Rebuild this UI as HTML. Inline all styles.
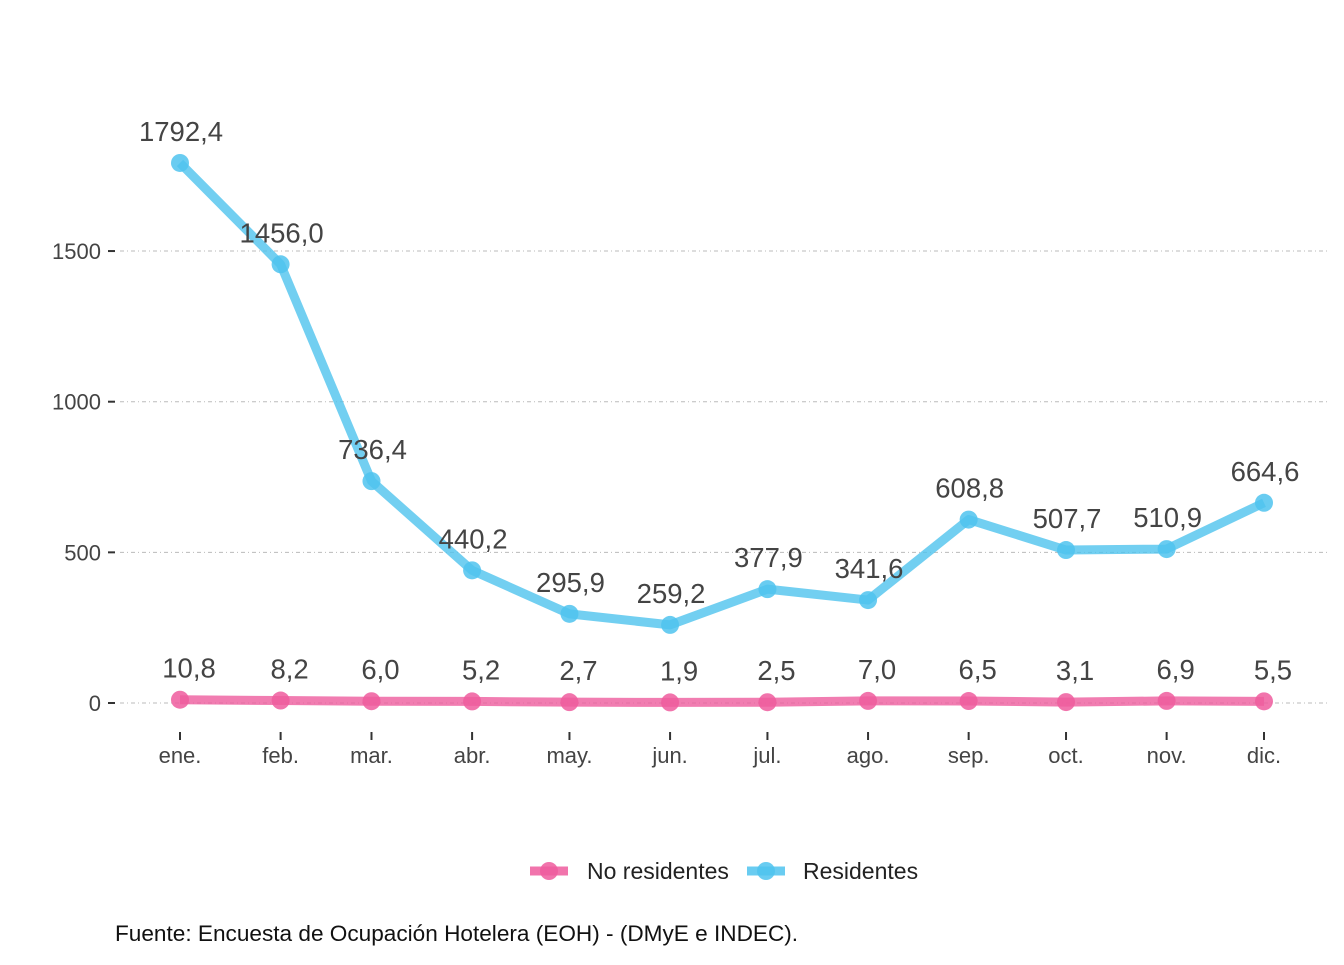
<!DOCTYPE html>
<html><head><meta charset="utf-8"><style>
body{margin:0;background:#fff;font-family:"Liberation Sans",sans-serif}
svg text{font-family:"Liberation Sans",sans-serif}
</style></head><body>
<svg id="chart" width="1344" height="960">
<g id="grid"></g><g id="axes"></g><g id="series"></g><g id="labels"></g>
<g>
 <line x1="530" y1="871" x2="568" y2="871" stroke="#ee5c9e" stroke-opacity="0.85" stroke-width="9"/>
 <circle cx="549" cy="871" r="9" fill="#ee5c9e" fill-opacity="0.85"/>
 <text x="587" y="879" font-size="23" fill="#222">No residentes</text>
 <line x1="747" y1="871" x2="785" y2="871" stroke="#4fc3ee" stroke-opacity="0.85" stroke-width="9"/>
 <circle cx="766" cy="871" r="9" fill="#4fc3ee" fill-opacity="0.85"/>
 <text x="803" y="879" font-size="23" fill="#222">Residentes</text>
</g>
<text x="115" y="941" font-size="22.6" fill="#111">Fuente: Encuesta de Ocupación Hotelera (EOH) - (DMyE e INDEC).</text>
</svg>
<script>
const months=["ene.","feb.","mar.","abr.","may.","jun.","jul.","ago.","sep.","oct.","nov.","dic."];
const monthDays=[0,31,59,90,120,151,181,212,243,273,304,334];
const residentes=[1792.4,1456.0,736.4,440.2,295.9,259.2,377.9,341.6,608.8,507.7,510.9,664.6];
const noResidentes=[10.8,8.2,6.0,5.2,2.7,1.9,2.5,7.0,6.5,3.1,6.9,5.5];
const yTicks=[0,500,1000,1500];
const NS="http://www.w3.org/2000/svg";
const X=d=>180+d*(1084/334);
const Y=v=>703-v*0.3013;
function mk(tag,attrs,parent){const e=document.createElementNS(NS,tag);for(const k in attrs)e.setAttribute(k,attrs[k]);parent.appendChild(e);return e;}
const grid=document.getElementById('grid'),axes=document.getElementById('axes'),series=document.getElementById('series'),labels=document.getElementById('labels');
yTicks.forEach(t=>{
 const g=mk('line',{x1:120,x2:1328,y1:Y(t),y2:Y(t),stroke:'#bbb','stroke-width':1,'stroke-dasharray':'4 3 1 3'},grid);
 
 
 const tk=mk('line',{x1:108,x2:115,y1:Y(t),y2:Y(t),stroke:'#333','stroke-width':2},axes);
 
 
 const tx=mk('text',{x:101,y:Y(t)+8,'text-anchor':'end','font-size':22,fill:'#444'},axes);
 tx.textContent=t;
 
 
});
months.forEach((m,i)=>{
 const x=X(monthDays[i]);
 const tk=mk('line',{x1:x,x2:x,y1:732,y2:740,stroke:'#333','stroke-width':2},axes);
 
 
 const tx=mk('text',{x:x,y:763,'text-anchor':'middle','font-size':22,fill:'#444'},axes);
 tx.textContent=m;
 
 
});
function draw(vals,color,name,dx){
 const pts=vals.map((v,i)=>X(monthDays[i])+','+Y(v)).join(' ');
 const pl=mk('polyline',{points:pts,fill:'none',stroke:color,'stroke-opacity':0.8,'stroke-width':9,'stroke-linejoin':'round'},series);
 
 
 vals.forEach((v,i)=>{
  const c=mk('circle',{cx:X(monthDays[i]),cy:Y(v),r:9,fill:color,'fill-opacity':0.85},series);
  
  
  const t=mk('text',{x:X(monthDays[i])+dx,y:Y(v)-22,'text-anchor':'middle','font-size':27.5,fill:'#444'},labels);
  t.textContent=v.toFixed(1).replace('.',',');
  
  
 });
}
draw(noResidentes,'#ee5c9e','no-residentes',9);
draw(residentes,'#4fc3ee','residentes',1);
</script>
</body></html>
